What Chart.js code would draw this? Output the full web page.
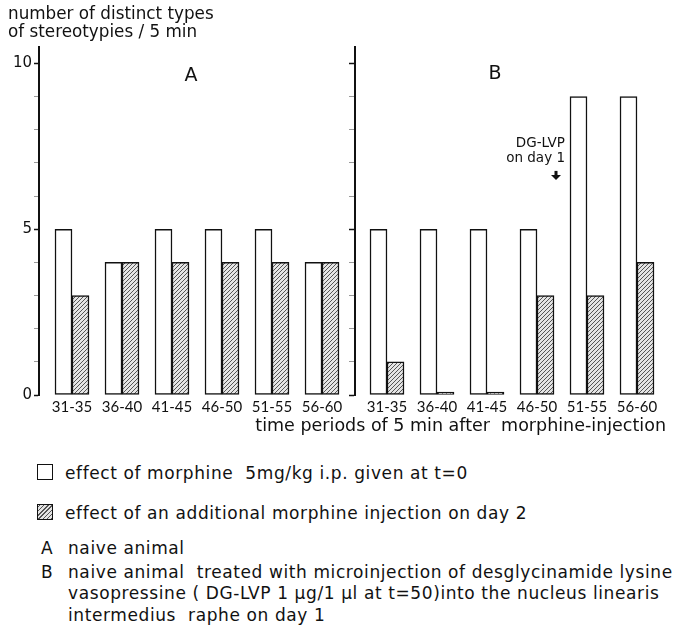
<!DOCTYPE html>
<html>
<head>
<meta charset="utf-8">
<script src="https://cdn.jsdelivr.net/npm/chart.js@4.4.0/dist/chart.umd.min.js"></script>
<style>
    body { margin: 0; background: #fff; font-family: "DejaVu Sans", sans-serif; color: #111; }
    #wrap { position: relative; width: 682px; height: 626px; overflow: hidden; }
    #chartBox { position: absolute; left: 0; top: 0; width: 682px; height: 439px; }
    .row { position: absolute; left: 65px; font-size: 17px; letter-spacing: 0.6px; line-height: 22px; white-space: nowrap; }
    .mark { position: absolute; left: -27px; }
    .sq { position: absolute; left: -28px; top: 2px; width: 14px; height: 14px; border: 1.5px solid #111; }
    .hatch { background: repeating-linear-gradient(-45deg, #555 0 1px, #e4e4e4 1px 3px); }
</style>
</head>
<body>
<div id="wrap">
    <div id="chartBox"><canvas id="chart"></canvas></div>
    <div class="row" style="top:462px"><span class="sq"></span>effect of morphine&nbsp; 5mg/kg i.p. given at t=0</div>
    <div class="row" style="top:502px"><span class="sq hatch"></span>effect of an additional morphine injection on day 2</div>
    <div class="row" style="top:537px;left:68px"><span class="mark">A</span>naive animal</div>
    <div class="row" style="top:561px;left:68px"><span class="mark">B</span>naive animal&nbsp; treated with microinjection of desglycinamide lysine</div>
    <div class="row" style="top:582px;left:68px">vasopressine ( DG-LVP 1 µg/1 µl at t=50)into the nucleus linearis</div>
    <div class="row" style="top:604px;left:68px">intermedius&nbsp; raphe on day 1</div>
</div>
<script>
// time periods (min after morphine injection), same for both panels
const periods = ["31-35", "36-40", "41-45", "46-50", "51-55", "56-60"];

// panel A: naive animal
const morphineA = [5, 4, 5, 5, 5, 4];
const extraA = [3, 4, 4, 4, 4, 4];

// panel B: naive animal + DG-LVP on day 1
const morphineB = [5, 5, 5, 5, 9, 9];
const extraB = [1, 0, 0, 3, 3, 4];

const yTicks = [0, 5, 10];

// both panels sit on one linear x axis, B shifted right
const panelShift = 6.3;
const panelBAxis = 6.66;

const xA = periods.map((_, i) => i + 1);
const xB = periods.map((_, i) => i + 1 + panelShift);
const xAll = xA.concat(xB);

function points(a, b) {
    return a.concat(b).map((v, i) => ({ x: xAll[i], y: v }));
}

function makeHatch() {
    const c = document.createElement("canvas");
    c.width = 4; c.height = 4;
    const g = c.getContext("2d");
    g.fillStyle = "#e4e4e4";
    g.fillRect(0, 0, 4, 4);
    g.strokeStyle = "#555";
    g.lineWidth = 1;
    g.beginPath();
    g.moveTo(0, 4); g.lineTo(4, 0);
    g.moveTo(-1, 1); g.lineTo(1, -1);
    g.moveTo(3, 5); g.lineTo(5, 3);
    g.stroke();
    return g.createPattern(c, "repeat");
}

const FONT = "'DejaVu Sans', sans-serif";
const NUMFONT = "Lato, 'DejaVu Sans', sans-serif";

// panel letters and the DG-LVP note
const notes = {
    id: "notes",
    afterDraw(chart) {
        const { ctx, scales: { x, y } } = chart;
        ctx.save();
        ctx.fillStyle = "#111";
        ctx.textAlign = "center";
        ctx.textBaseline = "middle";
        ctx.font = "19px " + FONT;
        ctx.fillText("A", x.getPixelForValue(3.38), y.getPixelForValue(9.62));
        ctx.fillText("B", x.getPixelForValue(9.46), y.getPixelForValue(9.68));
        ctx.font = "13.5px " + FONT;
        ctx.textAlign = "right";
        const tx = x.getPixelForValue(10.86);
        ctx.fillText("DG-LVP", tx, y.getPixelForValue(7.58));
        ctx.fillText("on day 1", tx, y.getPixelForValue(7.12));
        // small down arrow
        const ax = x.getPixelForValue(10.68), ay = y.getPixelForValue(6.64);
        ctx.fillRect(ax - 1.5, ay - 4, 3, 5);
        ctx.beginPath();
        ctx.moveTo(ax - 5, ay); ctx.lineTo(ax + 5, ay); ctx.lineTo(ax, ay + 5);
        ctx.closePath();
        ctx.fill();
        ctx.restore();
    }
};

const tickStyle = {
    tickColor: c => yTicks.includes(c.tick.value) ? "#111" : "#999",
    tickWidth: c => yTicks.includes(c.tick.value) ? 1.5 : 1
};

new Chart(document.getElementById("chart"), {
    type: "bar",
    data: {
        datasets: [
            {
                label: "effect of morphine 5mg/kg i.p. given at t=0",
                data: points(morphineA, morphineB),
                backgroundColor: "#fff",
                borderColor: "#111",
                borderWidth: 1.5,
                borderSkipped: false
            },
            {
                label: "effect of an additional morphine injection on day 2",
                data: points(extraA, extraB),
                backgroundColor: makeHatch(),
                borderColor: "#111",
                borderWidth: 1.5,
                borderSkipped: false,
                minBarLength: 3
            }
        ]
    },
    options: {
        responsive: true,
        maintainAspectRatio: false,
        animation: false,
        barThickness: 17,
        layout: { padding: { left: 8, right: 16, top: 0, bottom: 2 } },
        plugins: {
            legend: { display: false },
            tooltip: { enabled: false },
            title: {
                display: true,
                align: "start",
                text: ["number of distinct types", "of stereotypies / 5 min"],
                color: "#111",
                font: { family: FONT, size: 16.8, weight: "normal", lineHeight: 1.1 },
                padding: { top: 5, bottom: 5 }
            }
        },
        scales: {
            x: {
                type: "linear",
                offset: false,
                min: 0.34,
                max: 12.88,
                grid: { display: false, drawTicks: false },
                border: { display: false },
                afterBuildTicks: s => { s.ticks = xAll.map(v => ({ value: v })); },
                ticks: {
                    autoSkip: false,
                    maxRotation: 0,
                    padding: 3,
                    color: "#111",
                    font: { family: NUMFONT, size: 15 },
                    callback: (v, i) => periods[i % periods.length]
                },
                title: {
                    display: true,
                    align: "end",
                    text: "time periods of 5 min after  morphine-injection",
                    color: "#111",
                    font: { family: FONT, size: 17.5 },
                    padding: { top: -3, bottom: 0 }
                }
            },
            y: {
                min: 0,
                max: 10.5,
                afterFit: s => { s.width = 31; },
                border: { display: true, color: "#111", width: 2 },
                grid: { drawOnChartArea: false, tickLength: 5, ...tickStyle },
                ticks: {
                    stepSize: 1,
                    includeBounds: false,
                    padding: 2,
                    color: "#111",
                    font: { family: FONT, size: 15 },
                    callback: v => yTicks.includes(v) ? String(v) : ""
                }
            },
            y2: {
                position: { x: panelBAxis },
                min: 0,
                max: 10.5,
                border: { display: true, color: "#111", width: 2 },
                grid: { drawOnChartArea: false, tickLength: 5, ...tickStyle },
                ticks: { stepSize: 1, includeBounds: false, callback: () => "" }
            }
        }
    },
    plugins: [notes]
});
</script>
</body>
</html>
